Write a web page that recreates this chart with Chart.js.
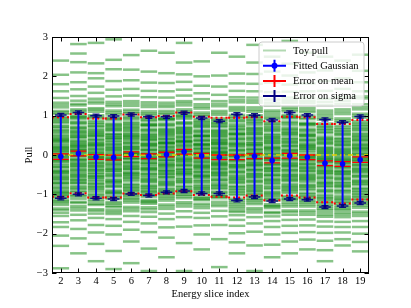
<!DOCTYPE html>
<html><head><meta charset="utf-8">
<script src="https://cdn.jsdelivr.net/npm/chart.js@4.4.1/dist/chart.umd.min.js"></script>
<style>html,body{margin:0;padding:0;background:#fff;}</style>
</head><body>
<canvas id="c" width="411" height="308"></canvas>
<script>
const slices = [2,3,4,5,6,7,8,9,10,11,12,13,14,15,16,17,18,19];
const yTicks = [-3,-2,-1,0,1,2,3];
const fitMean  = [-0.04, 0.04,-0.05,-0.065, 0.02,-0.03, 0.01, 0.08,-0.02,-0.06,-0.06,-0.03,-0.14,-0.02,-0.06,-0.21,-0.23,-0.12];
const fitSigma = [ 1.06, 1.04, 1.05, 1.055, 1.01, 1.00, 0.96, 0.995,0.96, 0.92, 1.095,1.04, 1.03, 1.10, 1.075,1.115,1.065,1.10];
const errMean  = [ 0.07, 0.06, 0.06, 0.06, 0.06, 0.06, 0.06, 0.06, 0.06, 0.06, 0.06, 0.06, 0.06, 0.06, 0.06, 0.06, 0.06, 0.07];
const errSigma = [ 0.04, 0.04, 0.04, 0.04, 0.04, 0.04, 0.04, 0.04, 0.04, 0.04, 0.04, 0.04, 0.04, 0.04, 0.04, 0.04, 0.04, 0.04];
const dotTop   = [ 0.96, 1.04, 0.93, 0.93, 1.03, 0.96, 0.99, 1.08, 0.97, 0.95, 0.95, 0.96, 0.86, 0.97, 0.96, 0.79, 0.79, 0.89];
const dotBot   = [-1.06,-0.97,-1.08,-1.08,-0.98,-1.02,-0.98,-0.92,-1.02,-1.06,-1.08,-1.03,-1.15,-1.03,-1.08,-1.20,-1.23,-1.13];

const toy2  = [-2.88,-2.31,-2.05,-1.83,-1.71,-1.55,-1.47,-1.36,-1.22,-1.15,-1.09,-1.01,-0.93,-0.88,-0.80,-0.74,-0.69,-0.61,-0.57,-0.50,-0.46,-0.39,-0.33,-0.30,-0.22,-0.17,-0.12,-0.08,-0.02,0.03,0.07,0.13,0.18,0.24,0.29,0.33,0.40,0.44,0.51,0.56,0.63,0.68,0.75,0.82,0.89,0.96,1.04,1.12,1.21,1.33,1.45,1.62,1.80,2.04,2.40,-1.18,-0.95,-0.63,-0.41,-0.15,0.10,0.36,0.85,
  -1.40,-1.27,-1.05,-0.98,-0.84,-0.71,-0.55,-0.44,-0.27,-0.05,0.01,0.16,0.21,0.38,0.47,0.60,0.72,0.93,1.08,1.27];
const toy3  = [-2.50,-2.12,-1.88,-1.66,-1.52,-1.41,-1.30,-1.19,-1.11,-1.02,-0.95,-0.86,-0.79,-0.72,-0.66,-0.60,-0.53,-0.47,-0.42,-0.36,-0.31,-0.25,-0.19,-0.14,-0.10,-0.04,0.01,0.05,0.11,0.16,0.20,0.27,0.31,0.37,0.43,0.48,0.55,0.59,0.66,0.72,0.79,0.85,0.92,1.00,1.07,1.16,1.26,1.38,1.50,1.67,1.85,2.10,2.36,2.58,2.82,-1.05,-0.71,-0.50,-0.22,0.08,0.25,0.61,0.97,
  -1.35,-1.22,-0.91,-0.83,-0.64,-0.56,-0.39,-0.28,-0.12,-0.02,0.13,0.22,0.34,0.46,0.52,0.69,0.82,0.95,1.12,1.30];
const toy4  = [-2.70,-2.26,-1.97,-1.78,-1.60,-1.49,-1.38,-1.27,-1.18,-1.08,-1.00,-0.94,-0.85,-0.78,-0.71,-0.66,-0.58,-0.53,-0.45,-0.41,-0.35,-0.28,-0.24,-0.18,-0.13,-0.07,-0.03,0.02,0.08,0.12,0.19,0.23,0.30,0.34,0.41,0.47,0.52,0.58,0.65,0.71,0.78,0.86,0.93,1.01,1.10,1.19,1.31,1.43,1.58,1.74,1.95,2.08,2.33,2.85,-1.24,-0.89,-0.55,-0.30,-0.05,0.27,0.49,0.74,
  -1.42,-1.13,-1.03,-0.82,-0.74,-0.62,-0.49,-0.38,-0.21,-0.10,0.05,0.15,0.26,0.38,0.55,0.62,0.82,0.97,1.15,1.36];
const toy5  = [-2.90,-2.44,-2.02,-1.80,-1.63,-1.50,-1.40,-1.29,-1.20,-1.12,-1.04,-0.96,-0.90,-0.82,-0.75,-0.68,-0.62,-0.55,-0.49,-0.44,-0.38,-0.32,-0.27,-0.21,-0.16,-0.11,-0.06,-0.01,0.04,0.09,0.15,0.21,0.25,0.32,0.36,0.43,0.49,0.54,0.61,0.67,0.74,0.80,0.88,0.95,1.03,1.13,1.24,1.35,1.49,1.66,1.88,2.18,2.42,2.94,-1.33,-0.98,-0.70,-0.40,-0.13,0.18,0.45,0.70,
  -1.45,-1.24,-1.08,-0.93,-0.79,-0.65,-0.52,-0.35,-0.24,-0.08,0.01,0.12,0.28,0.40,0.52,0.64,0.77,0.92,1.08,1.29];
const toy6  = [-2.75,-2.20,-1.90,-1.70,-1.55,-1.43,-1.32,-1.21,-1.12,-1.03,-0.96,-0.88,-0.81,-0.74,-0.67,-0.62,-0.55,-0.49,-0.44,-0.38,-0.33,-0.27,-0.22,-0.17,-0.11,-0.07,-0.02,0.03,0.07,0.12,0.18,0.23,0.28,0.34,0.39,0.45,0.50,0.57,0.62,0.69,0.76,0.83,0.90,0.98,1.06,1.15,1.25,1.37,1.51,1.68,1.90,2.17,2.54,-1.08,-0.84,-0.52,-0.29,0.01,0.20,0.53,0.80,
  -1.37,-1.16,-1.00,-0.91,-0.77,-0.59,-0.46,-0.35,-0.19,-0.09,0.05,0.15,0.31,0.42,0.48,0.65,0.72,0.94,1.10,1.31];
const toy7  = [-2.95,-2.38,-1.96,-1.74,-1.57,-1.45,-1.33,-1.24,-1.14,-1.06,-0.98,-0.91,-0.83,-0.77,-0.70,-0.64,-0.57,-0.52,-0.46,-0.40,-0.35,-0.29,-0.24,-0.19,-0.14,-0.09,-0.04,0.01,0.05,0.11,0.15,0.21,0.26,0.31,0.37,0.42,0.48,0.54,0.60,0.66,0.73,0.80,0.87,0.94,1.02,1.11,1.22,1.34,1.47,1.63,1.84,2.12,2.65,-1.20,-0.87,-0.61,-0.33,-0.06,0.24,0.45,0.77,
  -1.38,-1.18,-1.02,-0.94,-0.80,-0.67,-0.49,-0.37,-0.21,-0.11,0.03,0.13,0.28,0.39,0.51,0.63,0.76,0.90,1.06,1.28];
const toy8  = [-2.60,-2.10,-1.84,-1.63,-1.49,-1.37,-1.26,-1.16,-1.07,-0.99,-0.92,-0.85,-0.78,-0.72,-0.65,-0.59,-0.53,-0.48,-0.42,-0.37,-0.32,-0.26,-0.21,-0.16,-0.11,-0.06,-0.02,0.03,0.08,0.13,0.17,0.23,0.28,0.33,0.38,0.44,0.49,0.55,0.61,0.67,0.74,0.80,0.88,0.95,1.03,1.12,1.22,1.33,1.46,1.62,1.83,2.08,2.60,-1.02,-0.75,-0.47,-0.24,0.05,0.31,0.58,0.91,
  -1.31,-1.11,-0.95,-0.88,-0.69,-0.56,-0.40,-0.29,-0.13,-0.04,0.10,0.20,0.30,0.41,0.52,0.64,0.77,0.92,1.07,1.27];
const toy9  = [-2.95,-2.24,-1.82,-1.58,-1.43,-1.31,-1.20,-1.10,-1.01,-0.93,-0.86,-0.78,-0.71,-0.65,-0.58,-0.52,-0.46,-0.40,-0.35,-0.29,-0.24,-0.19,-0.13,-0.08,-0.03,0.02,0.07,0.11,0.16,0.21,0.27,0.32,0.37,0.42,0.48,0.53,0.59,0.65,0.71,0.78,0.84,0.92,0.99,1.07,1.16,1.26,1.37,1.51,1.66,1.86,2.05,2.35,2.85,-0.97,-0.68,-0.44,-0.16,0.09,0.35,0.62,1.02,
  -1.25,-1.05,-0.90,-0.82,-0.62,-0.49,-0.37,-0.26,-0.10,0.00,0.13,0.24,0.34,0.45,0.56,0.68,0.81,0.96,1.11,1.32];
const toy10 = [-2.40,-2.02,-1.79,-1.60,-1.47,-1.35,-1.24,-1.15,-1.06,-0.98,-0.90,-0.83,-0.76,-0.70,-0.63,-0.58,-0.51,-0.46,-0.40,-0.35,-0.30,-0.25,-0.20,-0.14,-0.10,-0.05,0.00,0.04,0.09,0.14,0.19,0.24,0.29,0.35,0.40,0.46,0.51,0.57,0.63,0.70,0.76,0.83,0.91,0.99,1.08,1.18,1.29,1.42,1.57,1.76,2.00,2.38,-1.10,-0.80,-0.55,-0.27,0.02,0.26,0.49,0.80,
  -1.29,-1.12,-0.94,-0.86,-0.67,-0.53,-0.43,-0.32,-0.17,-0.07,0.06,0.16,0.27,0.37,0.48,0.60,0.73,0.87,1.03,1.23];
const toy11 = [-2.85,-2.14,-1.78,-1.56,-1.42,-1.30,-1.19,-1.10,-1.01,-0.93,-0.86,-0.79,-0.72,-0.66,-0.60,-0.54,-0.48,-0.43,-0.38,-0.32,-0.27,-0.23,-0.18,-0.13,-0.08,-0.04,0.01,0.06,0.10,0.15,0.20,0.25,0.30,0.35,0.41,0.46,0.52,0.58,0.64,0.71,0.78,0.85,0.93,1.02,1.12,1.24,1.37,1.53,1.74,2.02,2.60,-1.05,-0.83,-0.51,-0.25,0.04,0.28,0.55,0.81,
  -1.25,-1.06,-0.96,-0.76,-0.63,-0.45,-0.35,-0.20,-0.10,-0.01,0.08,0.17,0.32,0.38,0.49,0.61,0.74,0.89,1.07,1.30];
const toy12 = [-2.50,-2.22,-1.99,-1.80,-1.65,-1.53,-1.41,-1.30,-1.20,-1.11,-1.02,-0.94,-0.86,-0.79,-0.72,-0.65,-0.59,-0.52,-0.46,-0.40,-0.34,-0.28,-0.23,-0.17,-0.12,-0.06,-0.01,0.04,0.10,0.15,0.21,0.27,0.32,0.38,0.44,0.50,0.57,0.63,0.70,0.78,0.85,0.93,1.02,1.12,1.22,1.34,1.47,1.63,1.82,2.07,2.50,-1.25,-0.90,-0.62,-0.31,-0.03,0.24,0.54,0.88,
  -1.45,-1.35,-1.15,-0.98,-0.82,-0.69,-0.55,-0.43,-0.26,-0.14,0.01,0.12,0.29,0.41,0.53,0.66,0.74,0.97,1.17,1.40];
const toy13 = [-2.95,-2.30,-1.95,-1.74,-1.58,-1.46,-1.35,-1.25,-1.15,-1.07,-0.99,-0.91,-0.84,-0.77,-0.70,-0.64,-0.58,-0.52,-0.46,-0.40,-0.35,-0.29,-0.24,-0.18,-0.13,-0.08,-0.03,0.02,0.07,0.12,0.17,0.23,0.28,0.34,0.39,0.45,0.51,0.57,0.64,0.70,0.77,0.85,0.93,1.01,1.10,1.21,1.33,1.46,1.62,1.81,2.06,2.35,2.80,-1.12,-0.88,-0.55,-0.26,0.00,0.30,0.60,0.89,
  -1.40,-1.20,-1.03,-0.95,-0.80,-0.67,-0.49,-0.38,-0.21,-0.10,0.04,0.14,0.25,0.42,0.54,0.67,0.81,0.97,1.15,1.39];
const toy14 = [-2.60,-2.28,-2.02,-1.83,-1.68,-1.56,-1.45,-1.35,-1.25,-1.16,-1.08,-1.00,-0.93,-0.86,-0.79,-0.73,-0.66,-0.60,-0.54,-0.49,-0.43,-0.37,-0.32,-0.26,-0.21,-0.15,-0.10,-0.05,0.00,0.06,0.11,0.17,0.22,0.28,0.34,0.40,0.46,0.53,0.60,0.67,0.75,0.83,0.92,1.02,1.13,1.26,1.41,1.60,1.84,2.12,2.50,-1.30,-1.03,-0.70,-0.40,-0.12,0.14,0.44,0.70,
  -1.48,-1.30,-1.12,-0.96,-0.83,-0.63,-0.51,-0.34,-0.24,-0.07,0.03,0.19,0.31,0.37,0.50,0.63,0.79,0.96,1.08,1.33];
const toy15 = [-2.50,-2.20,-1.98,-1.80,-1.65,-1.52,-1.41,-1.31,-1.21,-1.12,-1.04,-0.96,-0.88,-0.81,-0.74,-0.67,-0.61,-0.54,-0.48,-0.42,-0.36,-0.30,-0.25,-0.19,-0.13,-0.08,-0.02,0.03,0.09,0.14,0.20,0.26,0.31,0.37,0.44,0.50,0.56,0.63,0.70,0.77,0.85,0.93,1.02,1.11,1.21,1.33,1.46,1.61,1.79,2.02,2.32,2.90,-1.15,-0.85,-0.57,-0.28,0.06,0.33,0.59,0.96,
  -1.45,-1.26,-1.08,-0.92,-0.78,-0.64,-0.51,-0.39,-0.22,-0.11,0.00,0.12,0.23,0.40,0.53,0.66,0.81,0.98,1.16,1.39];
const toy16 = [-2.40,-2.15,-1.96,-1.79,-1.64,-1.52,-1.41,-1.31,-1.21,-1.12,-1.04,-0.96,-0.89,-0.81,-0.75,-0.68,-0.61,-0.55,-0.49,-0.43,-0.37,-0.31,-0.26,-0.20,-0.15,-0.09,-0.04,0.01,0.07,0.12,0.18,0.23,0.29,0.35,0.41,0.47,0.54,0.60,0.67,0.75,0.82,0.91,1.00,1.09,1.20,1.32,1.46,1.62,1.82,2.10,2.60,-1.17,-0.85,-0.58,-0.33,-0.06,0.21,0.49,0.79,
  -1.46,-1.26,-1.08,-1.00,-0.78,-0.64,-0.52,-0.40,-0.23,-0.12,-0.01,0.15,0.26,0.38,0.51,0.63,0.78,0.95,1.14,1.38];
const toy17 = [-2.70,-2.42,-2.18,-1.98,-1.82,-1.69,-1.57,-1.46,-1.36,-1.27,-1.18,-1.10,-1.02,-0.95,-0.88,-0.81,-0.74,-0.68,-0.62,-0.55,-0.49,-0.43,-0.37,-0.32,-0.26,-0.20,-0.14,-0.09,-0.03,0.02,0.08,0.14,0.20,0.27,0.33,0.40,0.47,0.55,0.63,0.71,0.80,0.90,1.01,1.13,1.27,1.43,1.63,1.88,2.15,2.50,-1.31,-1.06,-0.78,-0.46,-0.17,0.11,0.37,0.67,
  -1.52,-1.40,-1.22,-1.13,-0.91,-0.71,-0.58,-0.40,-0.29,-0.11,-0.06,0.05,0.17,0.30,0.43,0.59,0.75,0.95,1.07,1.35];
const toy18 = [-2.30,-2.14,-1.97,-1.83,-1.70,-1.58,-1.47,-1.37,-1.28,-1.19,-1.11,-1.03,-0.96,-0.89,-0.82,-0.76,-0.69,-0.63,-0.57,-0.51,-0.45,-0.40,-0.34,-0.28,-0.23,-0.17,-0.12,-0.06,-0.01,0.05,0.11,0.17,0.23,0.29,0.36,0.43,0.50,0.57,0.65,0.74,0.83,0.93,1.04,1.16,1.30,1.47,1.68,1.95,2.40,-1.33,-1.08,-0.79,-0.48,-0.20,0.08,0.33,0.61,
  -1.52,-1.41,-1.23,-1.15,-0.92,-0.72,-0.60,-0.42,-0.31,-0.14,-0.09,0.02,0.14,0.26,0.40,0.53,0.69,0.88,1.10,1.38];
const toy19 = [-2.45,-2.21,-2.00,-1.83,-1.68,-1.55,-1.44,-1.34,-1.24,-1.15,-1.07,-0.99,-0.91,-0.84,-0.77,-0.70,-0.64,-0.57,-0.51,-0.45,-0.39,-0.33,-0.28,-0.22,-0.16,-0.11,-0.05,0.00,0.06,0.11,0.17,0.23,0.29,0.35,0.41,0.48,0.55,0.62,0.69,0.77,0.86,0.95,1.05,1.16,1.29,1.44,1.62,1.85,2.14,2.55,-1.20,-0.95,-0.67,-0.36,-0.08,0.19,0.45,0.73,
  -1.49,-1.29,-1.11,-1.03,-0.87,-0.73,-0.54,-0.42,-0.25,-0.14,0.03,0.14,0.26,0.38,0.52,0.65,0.81,1.00,1.22,1.49];
const toyPulls = [toy2,toy3,toy4,toy5,toy6,toy7,toy8,toy9,toy10,toy11,toy12,toy13,toy14,toy15,toy16,toy17,toy18,toy19];

const SERIF = '"Liberation Serif","Times New Roman",serif';
const C_TOY = 'rgba(0,128,0,0.47)';
const C_BLUE = '#0000ff';
const C_RED = '#ff0000';
const C_NAVY = 'rgba(0,0,128,0.9)';
const C_YEL = '#e0d000';

const toyData = [];
slices.forEach((s, i) => toyPulls[i].forEach(v => toyData.push({x: s, y: v})));
function segs(list) {
  const out = [];
  list.forEach(([x1, y1, x2, y2]) => { out.push({x: x1, y: y1}, {x: x2, y: y2}, {x: x2, y: null}); });
  return out;
}
const dotSegs = [], meanSegs = [], meanVert = [], sigVert = [], navyH = [], navyV = [], navyCaps = [];
slices.forEach((s, i) => {
  const m = fitMean[i], sg = fitSigma[i], em = errMean[i], es = errSigma[i];
  dotSegs.push([s - 0.5, dotTop[i], s + 0.5, dotTop[i]], [s - 0.5, dotBot[i], s + 0.5, dotBot[i]]);
  meanSegs.push([s - 0.45, m + em, s + 0.45, m + em], [s - 0.45, m - em, s + 0.45, m - em]);
  meanVert.push([s, m - em, s, m + em]);
  sigVert.push([s, m - sg, s, m + sg]);
  [m + sg, m - sg].forEach(e => {
    navyH.push([s - 0.33, e, s + 0.33, e]);
    navyV.push([s, e - es, s, e + es]);
    navyCaps.push([s - 0.2, e - es, s + 0.2, e - es], [s - 0.2, e + es, s + 0.2, e + es]);
  });
});
const meanPts = slices.map((s, i) => ({x: s, y: fitMean[i]}));

function lineDs(data, color, width, order, dash) {
  return {type: 'line', data: segs(data), borderColor: color, borderWidth: width, pointRadius: 0,
          borderDash: dash || [], spanGaps: false, order: order, fill: false, tension: 0};
}

const frameTicks = {
  id: 'frameTicks',
  afterDatasetsDraw(chart) {
    const {ctx, chartArea: a, scales} = chart;
    ctx.save();
    ctx.strokeStyle = '#000'; ctx.lineWidth = 1;
    ctx.beginPath();
    slices.forEach(s => {
      const x = Math.round(scales.x.getPixelForValue(s)) + 0.5;
      ctx.moveTo(x, a.bottom); ctx.lineTo(x, a.bottom - 4.5);
      ctx.moveTo(x, a.top); ctx.lineTo(x, a.top + 4.5);
    });
    yTicks.forEach(v => {
      const y = Math.round(scales.y.getPixelForValue(v)) + 0.5;
      ctx.moveTo(a.left, y); ctx.lineTo(a.left + 4.5, y);
      ctx.moveTo(a.right, y); ctx.lineTo(a.right - 4.5, y);
    });
    ctx.stroke();
    ctx.strokeRect(Math.round(a.left) + 0.5, Math.round(a.top) + 0.5, Math.round(a.right - a.left) - 1, Math.round(a.bottom - a.top) - 1);
    ctx.restore();
  },
  afterDraw(chart) {
    const ctx = chart.ctx;
    ctx.save();
    const bx = 259, by = 42, bw = 105, bh = 64, r = 3;
    ctx.beginPath();
    ctx.moveTo(bx + r, by); ctx.arcTo(bx + bw, by, bx + bw, by + bh, r); ctx.arcTo(bx + bw, by + bh, bx, by + bh, r);
    ctx.arcTo(bx, by + bh, bx, by, r); ctx.arcTo(bx, by, bx + bw, by, r); ctx.closePath();
    ctx.fillStyle = 'rgba(255,255,255,0.82)'; ctx.fill();
    ctx.strokeStyle = '#cccccc'; ctx.lineWidth = 1; ctx.stroke();
    const items = [
      {t: 'Toy pull', kind: 'toy'},
      {t: 'Fitted Gaussian', kind: 'fit'},
      {t: 'Error on mean', kind: 'mean'},
      {t: 'Error on sigma', kind: 'sig'}
    ];
    const x1 = 263, x2 = 286, xc = (x1 + x2) / 2;
    items.forEach((it, k) => {
      const y = 50.5 + k * 15.2;
      ctx.lineWidth = 2;
      if (it.kind === 'toy') {
        ctx.strokeStyle = 'rgba(0,128,0,0.3)';
        ctx.beginPath(); ctx.moveTo(x1, y); ctx.lineTo(x2, y); ctx.stroke();
      } else {
        const col = it.kind === 'fit' ? C_BLUE : it.kind === 'mean' ? C_RED : '#000080';
        ctx.strokeStyle = col;
        ctx.beginPath(); ctx.moveTo(x1, y); ctx.lineTo(x2, y); ctx.moveTo(xc, y - 6); ctx.lineTo(xc, y + 6); ctx.stroke();
        if (it.kind === 'fit') { ctx.fillStyle = col; ctx.beginPath(); ctx.arc(xc, y, 3, 0, Math.PI * 2); ctx.fill(); }
      }
      ctx.fillStyle = '#000'; ctx.font = '10.5px ' + SERIF; ctx.textBaseline = 'middle'; ctx.textAlign = 'left';
      ctx.fillText(it.t, 293, y + 0.5);
    });
    ctx.restore();
  }
};

new Chart(document.getElementById('c'), {
  type: 'line',
  data: {
    datasets: [
      {type: 'line', label: 'Fitted Gaussian', data: meanPts, showLine: false, pointStyle: 'circle', pointRadius: 2.8,
       pointBackgroundColor: C_BLUE, pointBorderColor: C_BLUE, pointBorderWidth: 0, order: 1},
      lineDs(navyCaps, C_NAVY, 1.2, 2),
      lineDs(navyV, C_NAVY, 3, 2),
      lineDs(navyH, C_NAVY, 1.5, 2),
      lineDs(sigVert, C_BLUE, 2, 3),
      lineDs(meanSegs, C_RED, 1.3, 4),
      lineDs(meanVert, C_RED, 1.3, 4),
      lineDs(dotSegs, C_RED, 2, 5, [2, 3]),
      lineDs([[1.5, 0, 19.5, 0]], C_YEL, 1.5, 6, [5, 3]),
      {type: 'line', label: 'Toy pull', data: toyData, showLine: false, pointStyle: 'line', pointRadius: 8.3,
       pointBorderWidth: 2.5, pointBorderColor: C_TOY, pointBackgroundColor: C_TOY, order: 10}
    ]
  },
  options: {
    responsive: false, animation: false, devicePixelRatio: 1, events: [],
    layout: {padding: {left: 0, top: 37, right: 42, bottom: 0}},
    plugins: {legend: {display: false}, tooltip: {enabled: false}},
    scales: {
      x: {
        type: 'linear', min: 1.5, max: 19.5,
        afterBuildTicks: sc => { sc.ticks = slices.map(v => ({value: v})); },
        afterFit: sc => { sc.height = 35; },
        grid: {display: false, drawTicks: false, tickLength: 0}, border: {display: false},
        ticks: {color: '#000', font: {family: SERIF, size: 10.5}, padding: 2, maxRotation: 0, autoSkip: false,
                callback: v => String(v)},
        title: {display: true, text: 'Energy slice index', color: '#000', font: {family: SERIF, size: 10.5},
                padding: {top: 0, bottom: 7}}
      },
      y: {
        type: 'linear', min: -3, max: 3,
        afterBuildTicks: sc => { sc.ticks = yTicks.map(v => ({value: v})); },
        afterFit: sc => { sc.width = 52; },
        grid: {display: false, drawTicks: false, tickLength: 0}, border: {display: false},
        ticks: {color: '#000', font: {family: SERIF, size: 10.5}, padding: 4,
                callback: v => v < 0 ? '\u2212' + Math.abs(v) : String(v)},
        title: {display: true, text: 'Pull', color: '#000', font: {family: SERIF, size: 10.5},
                padding: {top: 23, bottom: 0}}
      }
    }
  },
  plugins: [frameTicks]
});
</script>
</body></html>
